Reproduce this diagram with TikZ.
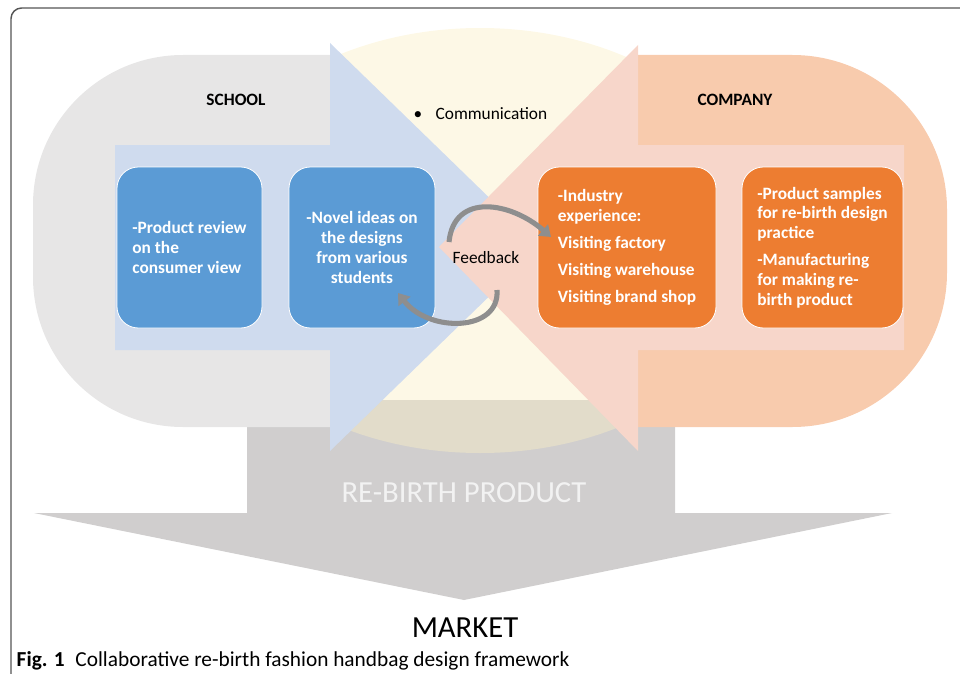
\documentclass[tikz,border=0pt]{standalone}
\usepackage{fontspec}
\setmainfont{Carlito}
\usepackage{tikz}
\usetikzlibrary{arrows.meta}
\usetikzlibrary{positioning}

\definecolor{schoolgray}{HTML}{E7E6E6}
\definecolor{companyorange}{HTML}{F8CBAD}
\definecolor{schoolblue}{HTML}{CFDBEE}
\definecolor{companypink}{HTML}{F7D6CA}
\definecolor{commyellow}{HTML}{FAEFC5}
\definecolor{productgray}{HTML}{D0CECE}
\definecolor{boxblue}{HTML}{5B9BD5}
\definecolor{boxorange}{HTML}{ED7D31}
\definecolor{fbgray}{HTML}{8E8E8E}
\definecolor{framegray}{HTML}{555555}

\tikzset{
  blockbox/.style={rounded corners=16pt, draw=white, line width=0.6pt,
    minimum height=120.75pt, inner sep=0pt, text=white,
    font=\fontsize{13}{14.8}\selectfont\bfseries},
  sidetitle/.style={font=\fontsize{13}{15}\selectfont\bfseries},
  plainlabel/.style={font=\fontsize{13}{15}\selectfont},
  fbarrow/.style={fbgray, line width=3.8pt, -{Triangle[width=11pt,length=8pt]}}
}

\begin{document}
\begin{tikzpicture}[x=0.75pt, y=-0.75pt]
  \path[use as bounding box] (0,0) rectangle (960,674);

  % figure frame
  \draw[framegray, line width=1.1pt, rounded corners=8pt] (11,690) -- (11,8) -- (980,8);

  % re-birth product arrow
  \fill[productgray] (247,400) -- (675,400) -- (675,513) -- (892,513)
    -- (464,600) -- (34,513) -- (247,513) -- cycle;

  % communication
  \fill[commyellow, opacity=0.43] (480,240.5) ellipse [x radius=290, y radius=212.5];

  % school and company
  \begin{scope}
    \clip (0,0) rectangle (330,674);
    \fill[schoolgray, rounded corners=112.5pt] (33,55) rectangle (700,427);
  \end{scope}
  \begin{scope}
    \clip (638,0) rectangle (960,674);
    \fill[companyorange, rounded corners=116pt] (250,55) rectangle (947,427);
  \end{scope}

  \fill[schoolblue] (115,145) -- (330,145) -- (330,43) -- (540,247)
    -- (330,451) -- (330,350) -- (115,350) -- cycle;
  \fill[companypink] (904,145) -- (638,145) -- (638,45) -- (439,247)
    -- (638,451) -- (638,350) -- (904,350) -- cycle;

  \node[sidetitle] (school) at (236,100) {SCHOOL};
  \node[sidetitle] (company) at (735,100) {COMPANY};
  \node[plainlabel, anchor=west] (comm) at (409,114) {\textbullet\hspace{10pt}Communication};

  \node[blockbox, fill=boxblue, minimum width=108.75pt, align=left] (review) at (189.5,247.5)
    {-Product review\\on the\\consumer view};
  \node[blockbox, fill=boxblue, minimum width=109.5pt, align=center] (ideas) at (362,247.5)
    {-Novel ideas on\\the designs\\from various\\students};
  \node[blockbox, fill=boxorange, minimum width=133.5pt, align=left] (industry) at (627,247.5)
    {-Industry\\experience:\\[5.5pt]Visiting factory\\[5.5pt]Visiting warehouse\\[5.5pt]Visiting brand shop};
  \node[blockbox, fill=boxorange, minimum width=120.75pt, align=left] (samples) at (822.5,247.5)
    {-Product samples\\for re-birth design\\practice\\[5.5pt]-Manufacturing\\for making re-\\birth product};

  % feedback loop
  \node[plainlabel] (feedback) at (486,258) {Feedback};
  \coordinate (fbtop) at (449,242);
  \coordinate (fbbot) at (497,290);
  \coordinate (toindustry) at (551,237);
  \coordinate (toideas) at (398,293);
  \draw[fbarrow] (fbtop) .. controls +(5,-50) and +(-40,-35) .. (toindustry);
  \draw[fbarrow] (fbbot) .. controls +(3,42) and +(31,40) .. (toideas);

  \node[text=white!95!black, font=\fontsize{23}{25}\selectfont] (product) at (464,493) {RE-BIRTH PRODUCT};
  \node[font=\fontsize{23}{25}\selectfont] (market) at (465,628) {MARKET};
  \node[anchor=west, font=\fontsize{16}{18}\selectfont] (caption) at (12,661)
    {\textbf{Fig. 1}\hspace{8pt}Collaborative re-birth fashion handbag design framework};
\end{tikzpicture}
\end{document}
